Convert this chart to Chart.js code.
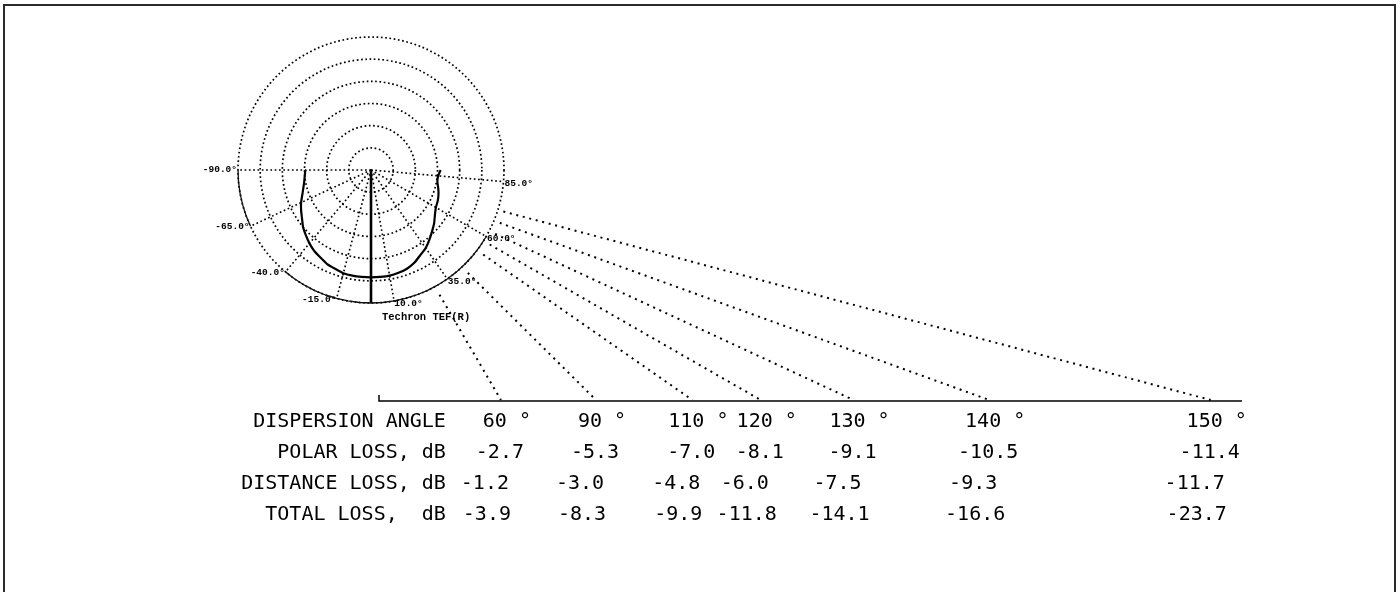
<!DOCTYPE html>
<html><head><meta charset="utf-8">
<script src="https://cdn.jsdelivr.net/npm/chart.js@4/dist/chart.umd.min.js"></script>
<style>
html,body{margin:0;padding:0;background:#fff;}
#wrap{position:relative;width:1400px;height:592px;overflow:hidden;background:#fff;}
#frame{position:absolute;left:3px;top:4px;width:1393px;height:640px;border:2px solid #2a2a2a;box-sizing:border-box;}
canvas{position:absolute;left:0;top:0;}
</style></head><body>
<div id="wrap"><div id="frame"></div><canvas id="c" width="1400" height="592"></canvas></div>
<script>
// ---- polar plot (angles in degrees from on-axis, 0 = down) ----
const gridAngles = [-90, -65, -40, -15, 10, 35, 60, 85];
const gridLabels = ['-90.0°', '-65.0°', '-40.0°', '-15.0°', '10.0°', '35.0°', '60.0°', '85.0°'];
const curveAngles = [-90,-85,-80,-75,-70,-65,-60,-55,-50,-45,-40,-35,-30,-25,-20,-15,-10,-5,0,5,10,15,20,25,30,35,40,45,50,55,60,65,70,75,80,85,90];
const responseDb = [-15.2,-15.0,-14.7,-14.2,-13.5,-12.6,-11.8,-11.0,-10.0,-9.2,-8.4,-7.7,-7.2,-6.6,-6.3,-5.9,-5.8,-5.8,-5.8,-5.8,-5.8,-6.0,-6.3,-6.9,-7.8,-8.5,-9.5,-10.5,-11.4,-12.4,-13.1,-13.4,-13.8,-14.3,-14.8,-14.8,-14.3];
const referenceAngles = [-90,-85,-80,-75,-70,-65,null,-40,-35,-30,-25,-20,-15,-10,-5,0,5,10,15,20,25,30,35,40,45,50,55,60];
const referenceDb = [0,0,0,0,0,0,null,0,0,0,0,0,0,0,0,0,0,0,0,0,0,0,0,0,0,0,0,0];
const plotCaption = 'Techron TEF(R)';

// ---- table ----
const dispersionAngles = [60, 90, 110, 120, 130, 140, 150];
const polarLoss = [-2.7, -5.3, -7.0, -8.1, -9.1, -10.5, -11.4];
const distanceLoss = [-1.2, -3.0, -4.8, -6.0, -7.5, -9.3, -11.7];
const totalLoss = [-3.9, -8.3, -9.9, -11.8, -14.1, -16.6, -23.7];
const rowLabels = ['DISPERSION ANGLE', 'POLAR LOSS, dB', 'DISTANCE LOSS, dB', 'TOTAL LOSS,  dB'];

// radar index <-> angle (5 degree steps, index 0 at +90 going clockwise)
const STEP = 5;
const N = 360 / STEP;
const angleOfIndex = i => 90 - STEP * i;
const indexOfAngle = a => (((90 - a) / STEP) % N + N) % N;
const radarLabels = Array.from({length: N}, (_, i) => String(angleOfIndex(i)));
const responseData = radarLabels.map((_, i) => {
  const k = curveAngles.indexOf(angleOfIndex(i));
  return k >= 0 ? responseDb[k] : null;
});
const referenceData = radarLabels.map((_, i) => {
  const k = referenceAngles.indexOf(angleOfIndex(i));
  return k >= 0 ? referenceDb[k] : null;
});

// layout / style constants
const AXIS_Y = 401, AXIS_X0 = 378, AXIS_X1 = 1242;
const RAY_DROP = 6;
const ROW_OFFSETS = [6, -1, -16, -14];
const MONO = '"DejaVu Sans Mono", "Liberation Mono", monospace';

const overlay = {
  id: 'overlay',
  afterDraw(chart) {
    const s = chart.scales.r, ctx = chart.ctx;
    const R = s.drawingArea;
    ctx.save();
    // angle labels
    ctx.fillStyle = '#000';
    ctx.font = 'bold 9.5px "Liberation Mono", monospace';
    ctx.textBaseline = 'middle';
    gridAngles.forEach((a, k) => {
      const p = s.getPointPosition(indexOfAngle(a), R + 1);
      ctx.textAlign = a < 0 ? 'right' : 'left';
      ctx.fillText(gridLabels[k], p.x, p.y + (a < 0 ? 0 : 2));
    });
    ctx.font = 'bold 10.5px "Liberation Mono", monospace';
    ctx.textAlign = 'left';
    ctx.fillText(plotCaption, s.xCenter + 11, s.yCenter + R + 14);

    // dispersion rays
    const ox = s.xCenter, oy = s.yCenter + RAY_DROP;
    const colX = [];
    ctx.strokeStyle = '#000';
    ctx.lineWidth = 2;
    ctx.setLineDash([2, 4.7]);
    dispersionAngles.forEach(d => {
      const u = s.getPointPosition(indexOfAngle(d / 2), 1);
      const ux = u.x - s.xCenter, uy = u.y - s.yCenter;
      const t = (AXIS_Y - oy) / uy;
      const ex = ox + ux * t;
      colX.push(ex);
      ctx.beginPath();
      ctx.moveTo(ox + ux * (R + 4), oy + uy * (R + 4));
      ctx.lineTo(ex, AXIS_Y - 1);
      ctx.stroke();
    });
    ctx.setLineDash([]);
    // axis line
    ctx.lineWidth = 1.5;
    ctx.beginPath();
    ctx.moveTo(AXIS_X0 + 1, AXIS_Y - 6);
    ctx.lineTo(AXIS_X0 + 1, AXIS_Y);
    ctx.lineTo(AXIS_X1, AXIS_Y);
    ctx.stroke();

    // table
    ctx.font = '20px ' + MONO;
    ctx.textBaseline = 'middle';
    const rows = [
      dispersionAngles.map(d => d + ' °'),
      polarLoss.map(v => v.toFixed(1)),
      distanceLoss.map(v => v.toFixed(1)),
      totalLoss.map(v => v.toFixed(1))
    ];
    const labelRight = colX[0] - 55;
    rows.forEach((vals, r) => {
      const y = AXIS_Y + 21 + r * 31;
      ctx.textAlign = 'right';
      ctx.fillText(rowLabels[r], labelRight, y);
      ctx.textAlign = 'center';
      vals.forEach((v, c) => ctx.fillText(v, colX[c] + ROW_OFFSETS[r], y));
    });
    ctx.restore();
  }
};

const dotted = [1.7, 2.6];
new Chart(document.getElementById('c'), {
  type: 'radar',
  data: {
    labels: radarLabels,
    datasets: [
      {label: 'Response', data: responseData, borderColor: '#000', borderWidth: 2.2, pointRadius: 0, fill: false, spanGaps: false, tension: 0.15},
      {label: 'Reference', data: referenceData, borderColor: '#111', borderWidth: 1.3, pointRadius: 0, fill: false, spanGaps: false}
    ]
  },
  options: {
    responsive: false,
    animation: false,
    devicePixelRatio: 1,
    layout: {padding: {left: 238, top: 37, right: 896, bottom: 289}},
    plugins: {legend: {display: false}, tooltip: {enabled: false}},
    scales: {
      r: {
        min: -30, max: 0, startAngle: 90,
        ticks: {display: false, stepSize: 5},
        pointLabels: {display: false},
        grid: {circular: true, color: '#000', lineWidth: 1.7},
        border: {dash: dotted},
        angleLines: {
          display: true,
          color: '#000',
          lineWidth: c => {
            const a = angleOfIndex(c.index);
            if (a === 0) return 2.6;
            return gridAngles.includes(a) ? 1.6 : 0;
          },
          borderDash: c => angleOfIndex(c.index) === 0 ? [] : dotted
        }
      }
    }
  },
  plugins: [overlay]
});
</script>
</body></html>
